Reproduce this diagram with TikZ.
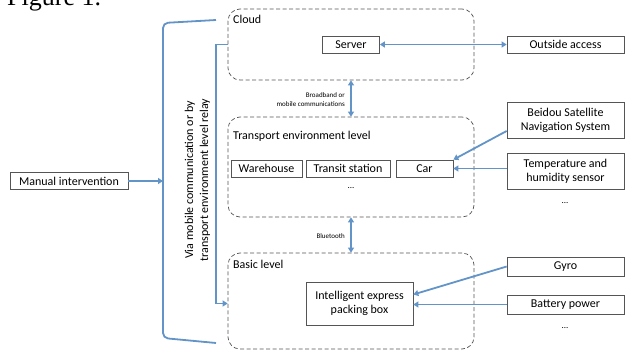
\documentclass[tikz,border=0pt]{standalone}
\usepackage{fontspec}
\setmainfont{Carlito}
\newfontfamily\figfont{Liberation Serif}
\usetikzlibrary{arrows.meta}
\definecolor{linkblue}{RGB}{98,148,200}
\definecolor{boxgray}{RGB}{85,85,85}
\tikzset{
  layer/.style={draw=boxgray, dash pattern=on 4pt off 2.5pt, rounded corners=12pt, line width=0.7pt, minimum width=246pt, inner sep=0pt},
  unit/.style={draw=boxgray, line width=0.7pt, inner sep=0pt, align=center, font=\fontsize{12}{14}\selectfont},
  tag/.style={anchor=north west, inner sep=0pt, font=\fontsize{12}{14}\selectfont},
  small/.style={inner sep=0pt, align=right, font=\fontsize{7}{9}\selectfont},
  link/.style={draw=linkblue, line width=1.8pt, -{Triangle[width=6pt,length=5pt]}},
  dlink/.style={link, {Triangle[width=6pt,length=5pt]}-{Triangle[width=6pt,length=5pt]}}
}
\begin{document}
\begin{tikzpicture}[x=1pt, y=-1pt]
    \clip (0,0) rectangle (625,351);
    \node[anchor=base west, inner sep=0pt, font=\figfont\fontsize{26}{28}\selectfont] (fig) at (7,5) {Figure 1.};
    % three levels
    \node[layer, minimum height=71pt] (cloud) at (351,44.5) {};
    \node[layer, minimum height=100pt] (transport) at (351,167) {};
    \node[layer, minimum height=96pt] (basic) at (351,301) {};
    \node[tag] (cloudtag) at (233,15) {Cloud};
    \node[tag] (transporttag) at (233,131) {Transport environment level};
    \node[tag] (basictag) at (233,260) {Basic level};
    % units inside the levels
    \node[unit, minimum width=57pt, minimum height=17pt] (server) at (351,44.5) {Server};
    \node[unit, minimum width=71pt, minimum height=17pt] (warehouse) at (266.5,168.5) {Warehouse};
    \node[unit, minimum width=84pt, minimum height=17pt] (transit) at (348,168.5) {Transit station};
    \node[unit, minimum width=57pt, minimum height=17pt] (car) at (424.5,168.5) {Car};
    \node[font=\fontsize{9}{10}\selectfont] (tdots) at (351,188) {...};
    \node[unit, minimum width=107pt, minimum height=43pt] (box) at (359.5,303.5) {Intelligent express\\packing box};
    % outside units
    \node[unit, minimum width=117pt, minimum height=17pt] (outside) at (565.5,44.5) {Outside access};
    \node[unit, minimum width=117pt, minimum height=36pt] (beidou) at (565.5,120) {Beidou Satellite\\Navigation System};
    \node[unit, minimum width=117pt, minimum height=36pt] (temp) at (565.5,171) {Temperature and\\humidity sensor};
    \node[font=\fontsize{9}{10}\selectfont] (sdots) at (565,203) {...};
    \node[unit, minimum width=117pt, minimum height=19pt] (gyro) at (565.5,266.5) {Gyro};
    \node[unit, minimum width=117pt, minimum height=19pt] (battery) at (565.5,304.5) {Battery power};
    \node[font=\fontsize{9}{10}\selectfont] (bdots) at (565,328) {...};
    \node[unit, minimum width=118pt, minimum height=17pt] (manual) at (69,181) {Manual intervention};
    % connectors
    \draw[dlink] (server) -- (outside);
    \draw[dlink] (cloud) -- (transport);
    \draw[dlink] (transport) -- (basic);
    \node[small, anchor=east] (broad) at (345,100) {Broadband or\\mobile communications};
    \node[small, anchor=east] (blue) at (345,236) {Bluetooth};
    \draw[link] ([yshift=-11pt]beidou.west) -- (car.north east);
    \draw[link] (temp.west |- car.east) -- (car.east);
    \draw[link] (gyro.west) -- ([yshift=9pt]box.east);
    \draw[link] (battery.west) -- (battery.west -| box.east);
    \draw[link] (cloud.west |- server) -- ++(-12,0) |- (basic.west |- box);
    % brace on the left
    \coordinate (bracemid) at (163,181);
    \draw[draw=linkblue, line width=1.8pt, rounded corners=5pt] (216,20) -- (163,23) -- (163,338) -- (216,343);
    \draw[link] (manual) -- (bracemid);
    \node[rotate=90, align=center, font=\fontsize{12}{15}\selectfont] (relay) at (197.5,180) {Via mobile communication or by\\transport environment level relay};
\end{tikzpicture}
\end{document}
